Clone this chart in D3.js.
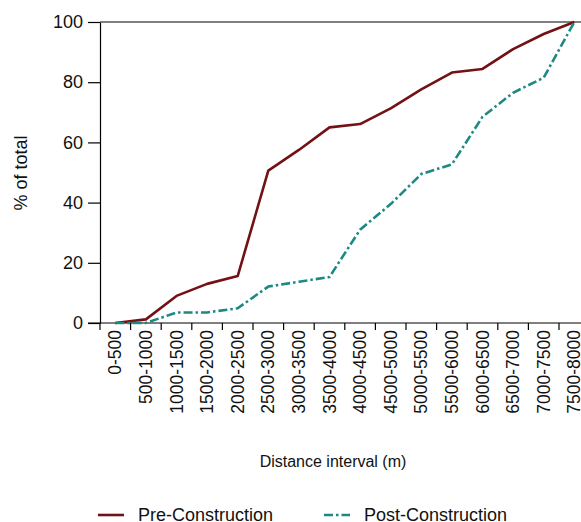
<!DOCTYPE html>
<html>
<head>
<meta charset="utf-8">
<script src="https://cdn.jsdelivr.net/npm/d3@7"></script>
<style>
body{margin:0;background:#fff;}
svg{display:block;font-family:"Liberation Sans",Arial,Helvetica,sans-serif;}
</style>
</head>
<body>
<svg id="chart" width="581" height="522"></svg>
<script>
const categories = ["0-500","500-1000","1000-1500","1500-2000","2000-2500","2500-3000","3000-3500","3500-4000","4000-4500","4500-5000","5000-5500","5500-6000","6000-6500","6500-7000","7000-7500","7500-8000"];
const preConstruction = [0,1.2,9,13,15.6,50.6,57.5,65,66.1,71.3,77.6,83.2,84.4,91,96,100];
const postConstruction = [0,0,3.5,3.5,4.9,12.1,13.7,15.3,31,39.5,49.5,52.7,68.5,76.5,81.5,100];
const yTicks = [0,20,40,60,80,100];
const seriesNames = ["Pre-Construction","Post-Construction"];
const seriesColors = ["#731114","#1c8a83"];

(function(){
const svg = d3.select("#chart");
const mLeft = 100, mTop = 22, mBottom = 323;
const x = d3.scaleBand().domain(categories).range([mLeft, mLeft + 16*30.6]).padding(0);
const y = d3.scaleLinear().domain([0,100]).range([mBottom, mTop]);

// top border line
svg.append("line").attr("x1", mLeft).attr("x2", 581).attr("y1", y(100)).attr("y2", y(100))
  .attr("stroke","#000").attr("stroke-width",1.2);

// y axis
const yAxis = svg.append("g").attr("transform",`translate(${mLeft},0)`)
  .call(d3.axisLeft(y).tickValues(yTicks).tickSize(12).tickPadding(5).tickSizeOuter(0));
yAxis.select(".domain").attr("stroke-width",1.2);
yAxis.selectAll(".tick line").attr("stroke-width",1.2);
yAxis.selectAll("text").attr("font-size",18).attr("fill","#111").attr("font-family","Liberation Sans, Arial, sans-serif");

// x axis
svg.append("line").attr("x1", mLeft-12).attr("x2", 581).attr("y1", mBottom).attr("y2", mBottom)
  .attr("stroke","#000").attr("stroke-width",1.2);
const bounds = categories.map((c)=>x(c));
svg.append("g").selectAll("line").data(bounds).join("line")
  .attr("x1",d=>d).attr("x2",d=>d).attr("y1",mBottom).attr("y2",mBottom+7)
  .attr("stroke","#000").attr("stroke-width",1.2);
svg.append("g").selectAll("text").data(categories).join("text")
  .attr("transform",d=>`translate(${x(d)+x.bandwidth()/2+6},${mBottom+7}) rotate(-90)`)
  .attr("text-anchor","end")
  .attr("font-size",17.5).attr("fill","#111")
  .text(d=>d);

// lines
const line = d3.line().x((d,i)=>x(categories[i])+x.bandwidth()/2).y(d=>y(d));
svg.append("path").datum(preConstruction).attr("d",line)
  .attr("fill","none").attr("stroke",seriesColors[0]).attr("stroke-width",2.6).attr("stroke-linejoin","round");
svg.append("path").datum(postConstruction).attr("d",line)
  .attr("fill","none").attr("stroke",seriesColors[1]).attr("stroke-width",2.6)
  .attr("stroke-dasharray","9,3,2.5,3");

// axis titles
svg.append("text").attr("transform","translate(26.5,173) rotate(-90)").attr("text-anchor","middle")
  .attr("font-size",18).attr("fill","#111").text("% of total");
svg.append("text").attr("x",333).attr("y",467).attr("text-anchor","middle")
  .attr("font-size",16).attr("fill","#111").text("Distance interval (m)");

// legend
const legX = [98, 324];
seriesNames.forEach((n,i)=>{
  svg.append("line").attr("x1",legX[i]).attr("x2",legX[i]+26).attr("y1",515).attr("y2",515)
    .attr("stroke",seriesColors[i]).attr("stroke-width",2.6)
    .attr("stroke-dasharray", i===1 ? "9,3,2.5,3" : null);
  svg.append("text").attr("x",legX[i]+40).attr("y",521).attr("font-size",18).attr("fill","#111").text(n);
});
})();
</script>
</body>
</html>
